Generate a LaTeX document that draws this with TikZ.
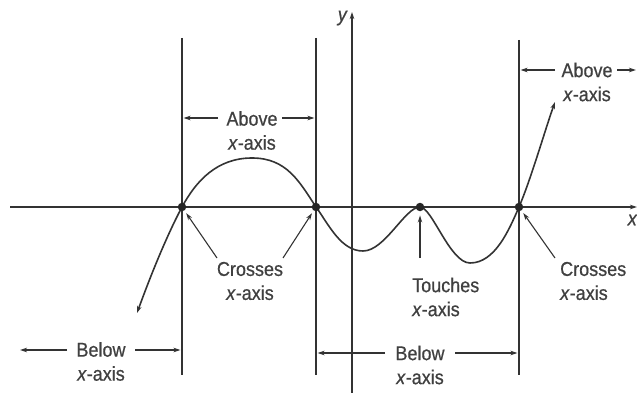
\documentclass[tikz,border=0pt]{standalone}
\usepackage{fontspec}
\setmainfont[FakeStretch=0.9,FakeBold=0.6]{Liberation Sans}
\usetikzlibrary{arrows.meta}
\begin{document}
\begin{tikzpicture}[x=1pt,y=-1pt,
  ink/.style={draw=black!80, line width=1.1pt},
  tipa/.style={-{Stealth[length=7pt,width=4.5pt]}},
  lbl/.style={font=\fontsize{20}{24}\selectfont, text=black!75, inner sep=0pt, align=center},
  dot/.style={circle, fill=black!85, minimum size=8.5pt, inner sep=0pt},
]
\useasboundingbox (0,0) rectangle (637,393);
% axes
\coordinate (xl) at (10,207);
\coordinate (xr) at (637,207);
\coordinate (yb) at (352,393);
\coordinate (yt) at (352,12);
\draw[ink,tipa] (xl) -- (xr);
\draw[ink,tipa] (yb) -- (yt);
\node[lbl, font=\itshape\fontsize{20}{24}\selectfont, anchor=east] (ylab) at (347,18) {y};
\node[lbl, font=\itshape\fontsize{20}{24}\selectfont, anchor=east] (xlab) at (637,220) {x};
% vertical guide lines
\coordinate (v1t) at (182,38); \coordinate (v1b) at (182,375);
\coordinate (v2t) at (316,38); \coordinate (v2b) at (316,375);
\coordinate (v3t) at (519,40); \coordinate (v3b) at (519,375);
\draw[ink] (v1t) -- (v1b);
\draw[ink] (v2t) -- (v2b);
\draw[ink] (v3t) -- (v3b);
% curve points
\coordinate (c0) at (137,313);
\coordinate (z1) at (182,207);
\coordinate (pk) at (252,158);
\coordinate (z2) at (316,207);
\coordinate (m1) at (363,251);
\coordinate (z3) at (420,207);
\coordinate (m2) at (470,263);
\coordinate (z4) at (519,207);
\coordinate (c5) at (555,102);
\draw[ink, line width=1.6pt, {Stealth[length=7pt,width=4.5pt]}-{Stealth[length=7pt,width=4.5pt]}]
  (c0) .. controls (149,280) and (165.5,238) .. (z1)
       .. controls (196,181) and (217,158) .. (pk)
       .. controls (287,158) and (299.5,182) .. (z2)
       .. controls (329,225) and (341,251) .. (m1)
       .. controls (385,251) and (405,207) .. (z3)
       .. controls (432,207) and (450,263) .. (m2)
       .. controls (495,263) and (509,230) .. (z4)
       .. controls (531,179) and (545,130) .. (c5);
\node[dot] (d1) at (z1) {};
\node[dot] (d2) at (z2) {};
\node[dot] (d3) at (z3) {};
\node[dot] (d4) at (z4) {};
% Above labels
\node[lbl] (above1) at (252,130.5) {Above\\\textit{x}-axis};
\coordinate (a1l) at (218,118); \coordinate (a1lt) at (183.5,118);
\coordinate (a1r) at (282,118); \coordinate (a1rt) at (314.5,118);
\draw[ink,tipa] (a1l) -- (a1lt);
\draw[ink,tipa] (a1r) -- (a1rt);
\node[lbl] (above2) at (587,82) {Above\\\textit{x}-axis};
\coordinate (a2l) at (555,70); \coordinate (a2lt) at (520.5,70);
\coordinate (a2r) at (617,70); \coordinate (a2rt) at (636,70);
\draw[ink,tipa] (a2l) -- (a2lt);
\draw[ink,tipa] (a2r) -- (a2rt);
% Crosses / Touches
\node[lbl] (cross1) at (250,281) {Crosses\\\textit{x}-axis};
\coordinate (k1a) at (217,258); \coordinate (k1b) at (283,258);
\draw[ink,tipa,shorten >=3pt] (k1a) -- (d1);
\draw[ink,tipa,shorten >=3pt] (k1b) -- (d2);
\node[lbl, align=left, anchor=west] (touch) at (412,297) {Touches\\\textit{x}-axis};
\coordinate (t1) at (420,258);
\draw[ink,tipa,shorten >=4pt] (t1) -- (d3);
\node[lbl, align=left, anchor=west] (cross2) at (560,281) {Crosses\\\textit{x}-axis};
\coordinate (k2) at (555,258);
\draw[ink,tipa,shorten >=3pt] (k2) -- (d4);
% Below labels
\node[lbl] (below1) at (101,361.5) {Below\\\textit{x}-axis};
\coordinate (b1l) at (67,350); \coordinate (b1lt) at (20,350);
\coordinate (b1r) at (135,350); \coordinate (b1rt) at (180.5,350);
\draw[ink,tipa] (b1l) -- (b1lt);
\draw[ink,tipa] (b1r) -- (b1rt);
\node[lbl] (below2) at (420,365) {Below\\\textit{x}-axis};
\coordinate (b2l) at (385,353); \coordinate (b2lt) at (317.5,353);
\coordinate (b2r) at (455,353); \coordinate (b2rt) at (517.5,353);
\draw[ink,tipa] (b2l) -- (b2lt);
\draw[ink,tipa] (b2r) -- (b2rt);
\end{tikzpicture}
\end{document}
